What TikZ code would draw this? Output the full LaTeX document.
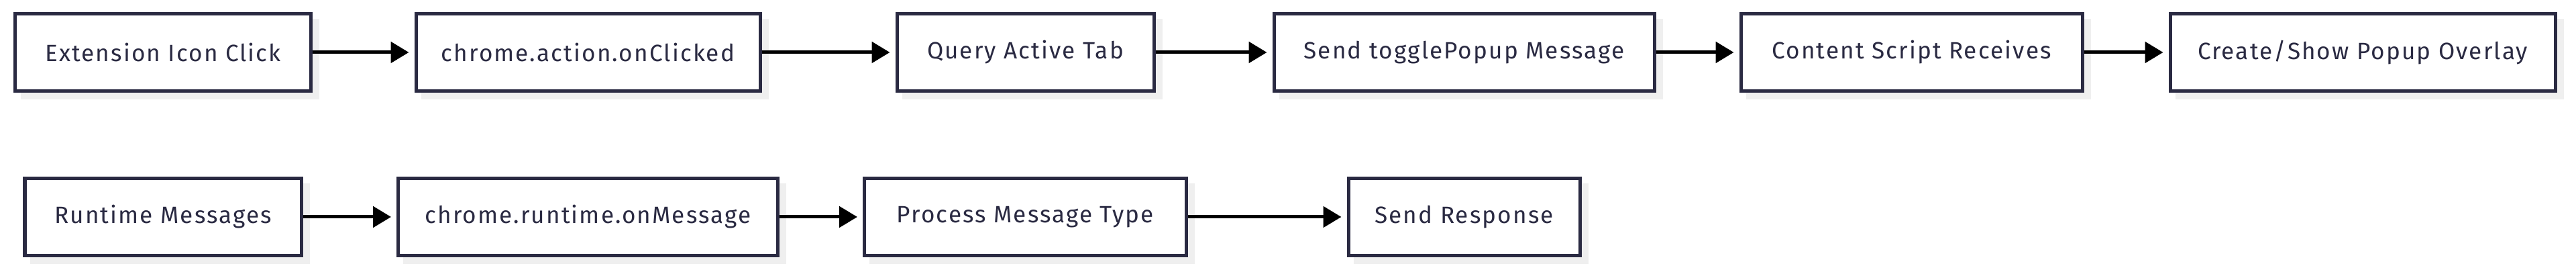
\documentclass[tikz,border=0pt]{standalone}
\usepackage{fontspec}
\setmainfont[LetterSpace=6]{Fira Sans}
\usepackage{tikz}
\usetikzlibrary{positioning}
\usetikzlibrary{arrows.meta}
\usetikzlibrary{shadows}
\definecolor{navy}{HTML}{2A2A42}
\definecolor{shadowgray}{HTML}{EFEFEF}
\tikzset{
flow_box/.style={rectangle, draw=navy, line width=0.05cm, fill=white, text=navy, minimum height=1.15cm, font=\fontsize{10}{12}\selectfont, drop shadow={shadow xshift=0.1cm, shadow yshift=-0.1cm, fill=shadowgray, draw=shadowgray, opacity=1}},
flow_arrow/.style={-{Triangle[length=0.27cm, width=0.31cm]}, line width=0.05cm, shorten >=0.08cm}
}

\begin{document}
\begin{tikzpicture}
    \useasboundingbox (0,0) rectangle (38.4,-4.02);
    \node[flow_box, minimum width=4.40cm] (icon_click) at (2.43,-0.78) {Extension Icon Click};
    \node[flow_box, minimum width=5.13cm] (on_clicked) [right=1.52cm of icon_click] {chrome.action.onClicked};
    \node[flow_box, minimum width=3.83cm] (query_tab) [right=1.99cm of on_clicked] {Query Active Tab};
    \node[flow_box, minimum width=5.67cm] (send_toggle) [right=1.74cm of query_tab] {Send togglePopup Message};
    \node[flow_box, minimum width=5.09cm] (content_script) [right=1.24cm of send_toggle] {Content Script Receives};
    \node[flow_box, minimum width=5.74cm] (popup_overlay) [right=1.26cm of content_script] {Create/Show Popup Overlay};

    \node[flow_box, minimum width=4.12cm] (runtime_msg) [below=1.25cm of icon_click] {Runtime Messages};
    \node[flow_box, minimum width=5.66cm] (on_message) [below=1.25cm of on_clicked] {chrome.runtime.onMessage};
    \node[flow_box, minimum width=4.80cm] (process_type) [below=1.25cm of query_tab] {Process Message Type};
    \node[flow_box, minimum width=3.45cm] (send_response) [below=1.25cm of send_toggle] {Send Response};

    \draw[flow_arrow] (icon_click) -- (on_clicked);
    \draw[flow_arrow] (on_clicked) -- (query_tab);
    \draw[flow_arrow] (query_tab) -- (send_toggle);
    \draw[flow_arrow] (send_toggle) -- (content_script);
    \draw[flow_arrow] (content_script) -- (popup_overlay);

    \draw[flow_arrow] (runtime_msg) -- (on_message);
    \draw[flow_arrow] (on_message) -- (process_type);
    \draw[flow_arrow] (process_type) -- (send_response);
\end{tikzpicture}
\end{document}
